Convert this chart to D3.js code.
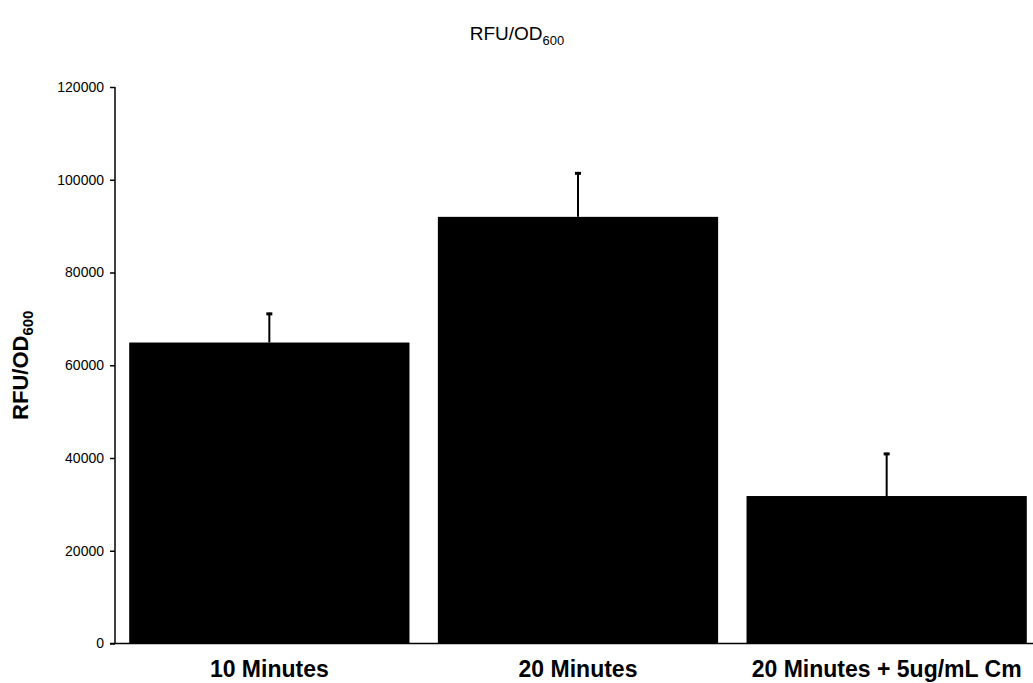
<!DOCTYPE html>
<html>

<head>
    <meta charset="utf-8">
    <style>
        body {
            margin: 0;
            background: #fff;
        }

        svg {
            font-family: "Liberation Sans", Arial, sans-serif;
        }

        .y .tick text {
            font-size: 14px;
            fill: #000;
        }

        .y .tick line {
            stroke: #000;
            stroke-width: 1.5;
        }

        .y .domain {
            display: none;
        }

        .title {
            font-size: 19px;
        }

        .axis-label {
            font-size: 22px;
            font-weight: bold;
        }

        .cat-label {
            font-size: 23px;
            font-weight: bold;
        }
    </style>
</head>

<body>
    <svg width="1033" height="683"></svg>

<script src="https://d3js.org/d3.v7.min.js"></script>
<script>

    let width = 1033;
    let height = 683;

    // data
    let categories = ["10 Minutes", "20 Minutes", "20 Minutes + 5ug/mL Cm"]
    let means = [64900, 92000, 31800]
    let errors = [6400, 9600, 9300]
    let yTicks = [0, 20000, 40000, 60000, 80000, 100000, 120000]

    let data = categories.map((c, i) => ({ cat: c, mean: means[i], err: errors[i] }))

    let svg = d3.select("svg")

    let margin = { top: 87, right: 0, bottom: 39.5, left: 115 }

    let x = d3.scaleBand()
        .domain(categories)
        .range([margin.left, 1041])
        .paddingInner(0.092)
        .paddingOuter(0.046)

    let y = d3.scaleLinear()
        .domain([0, 120000])
        .range([height - margin.bottom, margin.top])

    // bars
    svg.append("g")
        .selectAll("rect")
        .data(data)
        .join("rect")
        .attr("x", d => x(d.cat))
        .attr("width", x.bandwidth())
        .attr("y", d => y(d.mean))
        .attr("height", d => y(0) - y(d.mean))
        .attr("fill", "#000")

    // error bars (upper only)
    let eb = svg.append("g")
        .selectAll("g")
        .data(data)
        .join("g")

    eb.append("line")
        .attr("x1", d => x(d.cat) + x.bandwidth() / 2)
        .attr("x2", d => x(d.cat) + x.bandwidth() / 2)
        .attr("y1", d => y(d.mean))
        .attr("y2", d => y(d.mean + d.err))
        .attr("stroke", "#000")
        .attr("stroke-width", 2)

    eb.append("line")
        .attr("x1", d => x(d.cat) + x.bandwidth() / 2 - 3)
        .attr("x2", d => x(d.cat) + x.bandwidth() / 2 + 3)
        .attr("y1", d => y(d.mean + d.err) + 1)
        .attr("y2", d => y(d.mean + d.err) + 1)
        .attr("stroke", "#000")
        .attr("stroke-width", 3)

    // y axis
    svg.append("g")
        .attr("class", "y axis")
        .attr("transform", `translate(${margin.left}, 0)`)
        .call(d3.axisLeft(y).tickValues(yTicks).tickSize(5).tickPadding(6).tickFormat(d3.format("d")))

    svg.append("line")
        .attr("x1", margin.left)
        .attr("x2", margin.left)
        .attr("y1", y(120000))
        .attr("y2", y(0))
        .attr("stroke", "#000")
        .attr("stroke-width", 1.5)

    // x axis line
    svg.append("line")
        .attr("x1", margin.left - 5)
        .attr("x2", width)
        .attr("y1", y(0))
        .attr("y2", y(0))
        .attr("stroke", "#000")
        .attr("stroke-width", 1.5)

    // category labels
    svg.append("g")
        .selectAll("text")
        .data(categories)
        .join("text")
        .attr("class", "cat-label")
        .attr("x", d => x(d) + x.bandwidth() / 2)
        .attr("y", 677)
        .attr("text-anchor", "middle")
        .text(d => d)

    // title
    let title = svg.append("text")
        .attr("class", "title")
        .attr("x", 517)
        .attr("y", 40)
        .attr("text-anchor", "middle")
    title.append("tspan").text("RFU/OD")
    title.append("tspan").attr("font-size", "13px").attr("dy", 5).text("600")

    // y axis label
    let ylab = svg.append("text")
        .attr("class", "axis-label")
        .attr("transform", `translate(28, ${y(60000)}) rotate(-90)`)
        .attr("text-anchor", "middle")
    ylab.append("tspan").text("RFU/OD")
    ylab.append("tspan").attr("font-size", "15px").attr("dy", 5).text("600")

</script>
</body>

</html>
